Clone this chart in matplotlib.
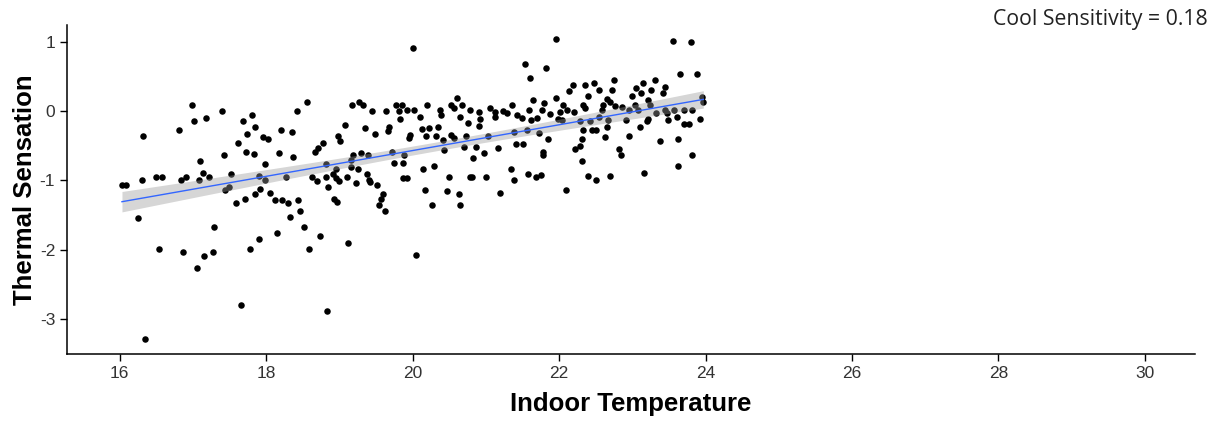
import numpy as np
import matplotlib
matplotlib.use('Agg')
import matplotlib.pyplot as plt

# indoor temperature (x) and thermal sensation vote (y)
indoor_temp = [
    16.98, 17.40, 17.01, 17.18, 16.81, 16.32, 17.68, 17.81, 17.85, 17.74,
    17.61, 17.73, 17.83, 17.42, 17.10, 17.13, 17.22, 17.52, 16.49, 16.58,
    16.30, 16.03, 16.08, 16.84, 16.91, 17.08, 17.44, 17.49, 17.90, 17.59,
    17.71, 17.85, 17.92, 16.25, 17.29, 16.54, 16.86, 17.15, 17.28, 17.05,
    17.78, 17.90, 17.66, 16.35,
    18.56, 18.42, 18.20, 18.35, 17.95, 18.03, 18.18, 18.37, 17.98, 17.98,
    18.27, 18.05, 18.12, 18.22, 18.30, 18.44, 18.32, 18.46, 18.51, 18.15,
    18.59, 18.73, 18.83, 19.12, 19.17, 19.27, 19.32, 19.44, 19.63, 19.77,
    19.86, 19.81, 19.83, 19.92, 19.08, 19.35, 19.49, 19.68, 19.66, 18.98,
    19.01, 18.78, 18.71, 18.66, 19.95, 19.19, 19.30, 19.39, 19.72, 19.88,
    19.75, 19.87, 18.81, 18.95, 19.16, 19.16, 19.25, 18.63, 18.69, 18.81,
    18.91, 18.96, 19.00, 19.10, 18.84, 19.22, 19.37, 19.40, 19.42, 19.51,
    19.87, 19.92, 18.92, 18.97, 19.59, 19.57, 19.54, 19.62,
    20.00, 20.05, 21.96, 21.54, 21.82, 21.60, 20.02, 20.19, 20.10, 20.37,
    20.39, 20.52, 20.61, 20.57, 20.68, 20.65, 20.78, 20.76, 20.90, 20.92,
    20.91, 21.05, 21.13, 21.12, 21.23, 21.29, 21.36, 21.42, 21.49, 21.59,
    21.62, 21.65, 21.70, 21.76, 21.80, 21.87, 21.96, 21.99, 20.13, 20.23,
    20.18, 20.34, 20.32, 19.97, 20.41, 20.53, 20.57, 20.73, 20.43, 20.70,
    20.87, 21.03, 21.17, 20.97, 20.83, 21.41, 21.51, 21.38, 21.56, 21.73,
    21.85, 21.78, 21.78, 20.14, 20.29, 20.49, 20.78, 20.81, 21.00, 21.34,
    21.39, 21.58, 21.69, 21.75, 20.17, 20.47, 20.63, 20.27, 20.65, 21.19,
    23.55, 23.80, 23.65, 23.89, 22.75, 23.31, 23.14, 22.19, 22.36, 22.48,
    22.14, 22.54, 22.72, 23.05, 23.25, 23.45, 23.42, 22.39, 22.99, 23.12,
    23.21, 22.66, 22.06, 22.33, 22.60, 22.70, 22.01, 22.11, 22.20, 22.36,
    22.58, 22.76, 22.86, 22.95, 23.04, 23.08, 23.24, 23.33, 23.45, 23.57,
    23.70, 23.81, 23.95, 23.97, 22.04, 22.29, 22.42, 22.55, 22.67, 22.92,
    23.22, 23.49, 23.61, 23.70, 23.78, 23.92, 23.47, 22.33, 22.45, 22.51,
    22.65, 23.11, 23.20, 22.31, 22.63, 22.95, 23.38, 23.62, 22.22, 22.28,
    22.82, 22.85, 22.31, 23.82, 23.62, 23.16, 22.39, 22.51, 22.70, 22.09,
]
thermal_sensation = [
    0.08, 0.00, -0.14, -0.10, -0.27, -0.36, -0.14, -0.05, -0.23, -0.33,
    -0.46, -0.59, -0.62, -0.64, -0.72, -0.89, -0.95, -0.90, -0.95, -0.95,
    -1.00, -1.07, -1.07, -1.00, -0.95, -1.00, -1.13, -1.09, -0.94, -1.33,
    -1.26, -1.20, -1.12, -1.54, -1.67, -1.98, -2.03, -2.09, -2.03, -2.26,
    -1.98, -1.85, -2.80, -3.29,
    0.13, 0.00, -0.27, -0.30, -0.38, -0.40, -0.61, -0.66, -0.76, -1.00,
    -0.95, -1.18, -1.28, -1.28, -1.33, -1.28, -1.52, -1.44, -1.67, -1.75,
    -1.98, -1.80, -2.88, -1.90, 0.08, 0.13, 0.08, 0.00, 0.00, 0.08,
    0.08, 0.00, -0.11, 0.01, -0.20, -0.25, -0.33, -0.23, -0.29, -0.36,
    -0.43, -0.46, -0.53, -0.59, -0.39, -0.63, -0.61, -0.63, -0.59, -0.63,
    -0.75, -0.75, -0.76, -0.83, -0.70, -0.81, -0.84, -0.95, -1.01, -0.95,
    -0.91, -0.97, -1.01, -0.95, -1.10, -1.03, -0.90, -0.99, -1.02, -1.07,
    -0.97, -0.97, -1.26, -1.31, -1.20, -1.27, -1.36, -1.44,
    0.91, -2.08, 1.04, 0.68, 0.62, 0.47, 0.01, 0.09, -0.09, 0.01,
    -0.05, 0.09, 0.19, 0.04, 0.09, -0.09, 0.01, -0.17, -0.01, -0.12,
    -0.22, 0.04, -0.08, -0.01, 0.00, -0.03, 0.09, -0.05, -0.10, 0.01,
    -0.13, 0.16, -0.10, 0.01, 0.12, -0.04, 0.19, -0.12, -0.26, -0.25,
    -0.36, -0.23, -0.36, -0.35, -0.42, -0.35, -0.39, -0.36, -0.56, -0.52,
    -0.52, -0.36, -0.53, -0.61, -0.68, -0.48, -0.48, -0.30, -0.27, -0.32,
    -0.40, -0.59, -0.63, -0.84, -0.79, -0.95, -0.95, -0.95, -0.95, -0.84,
    -1.00, -0.90, -0.95, -0.92, -1.13, -1.15, -1.20, -1.36, -1.36, -1.18,
    1.01, 0.99, 0.53, 0.53, 0.45, 0.45, 0.40, 0.38, 0.38, 0.40,
    0.29, 0.30, 0.31, 0.33, 0.31, 0.34, 0.26, 0.21, 0.22, 0.26,
    0.16, 0.18, 0.09, 0.09, 0.09, 0.13, -0.01, 0.02, -0.02, 0.04,
    0.01, 0.07, 0.06, 0.02, 0.09, 0.01, 0.09, -0.03, 0.01, 0.01,
    0.01, 0.01, 0.20, 0.13, -0.13, -0.15, -0.15, -0.09, -0.13, -0.13,
    -0.12, -0.13, -0.08, -0.18, -0.18, -0.12, -0.03, -0.27, -0.27, -0.27,
    -0.23, -0.23, -0.14, -0.40, -0.38, -0.36, -0.43, -0.40, -0.55, -0.51,
    -0.55, -0.63, -0.72, -0.63, -0.79, -0.89, -0.94, -1.00, -0.94, -1.13,
]
sensitivity_label = 'Cool Sensitivity = 0.18'
x_ticks = [16, 18, 20, 22, 24, 26, 28, 30]
y_ticks = [-3, -2, -1, 0, 1]

x = np.array(indoor_temp)
y = np.array(thermal_sensation)

# linear fit + 95% confidence band (like geom_smooth(method='lm'))
b, a = np.polyfit(x, y, 1)
xs = np.linspace(x.min(), x.max(), 100)
ys = a + b * xs
n = len(x)
resid = y - (a + b * x)
s = np.sqrt(np.sum(resid ** 2) / (n - 2))
se = s * np.sqrt(1 / n + (xs - x.mean()) ** 2 / np.sum((x - x.mean()) ** 2))
ci = 1.968 * se

plt.rcParams['font.family'] = ['Liberation Sans', 'DejaVu Sans']
plt.rcParams['axes.unicode_minus'] = False

fig = plt.figure(figsize=(12.19, 4.23), dpi=100)
ax = fig.add_axes([0.055, 0.163, 0.925, 0.778])

ax.scatter(x, y, s=22, color='black', linewidths=0, zorder=2)
ax.fill_between(xs, ys - ci, ys + ci, color='#999999', alpha=0.4, linewidth=0, zorder=3)
ax.plot(xs, ys, color='#3366FF', linewidth=1, zorder=4)

ax.set_xlim(15.28, 30.68)
ax.set_ylim(-3.5, 1.24)
ax.set_xticks(x_ticks)
ax.set_yticks(y_ticks)

for sp in ['top', 'right']:
    ax.spines[sp].set_visible(False)
for sp in ['left', 'bottom']:
    ax.spines[sp].set_linewidth(1.1)
    ax.spines[sp].set_color('black')
ax.tick_params(direction='out', length=5, width=1, colors='black', labelsize=12.5,
               labelcolor='#333333')

ax.set_xlabel('Indoor Temperature', fontsize=18.5, fontweight='bold')
ax.set_ylabel('Thermal Sensation', fontsize=18.5, fontweight='bold')
ax.xaxis.set_label_coords(0.5, -0.115)
ax.yaxis.set_label_coords(-0.027, 0.5)

fig.text(0.991, 0.953, sensitivity_label, ha='right', va='center', fontsize=15.3,
         family=['Open Sans', 'DejaVu Sans'], color='#222222')

fig.savefig('out.png', dpi=100)
